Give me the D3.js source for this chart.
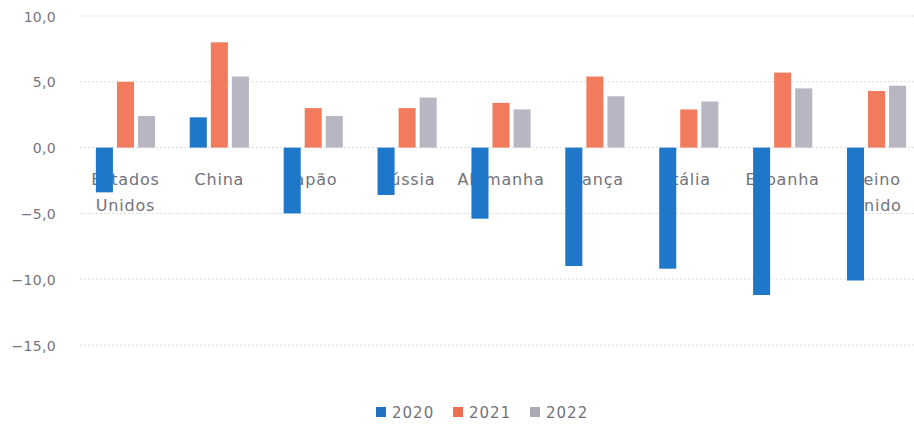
<!DOCTYPE html>
<html>
<head>
<meta charset="utf-8">
<script src="https://cdn.jsdelivr.net/npm/d3@7"></script>
<style>
  html, body { margin: 0; padding: 0; background: #fff; }
  svg { display: block; }
  text { font-family: "DejaVu Sans", sans-serif; }
</style>
</head>
<body>
<svg id="chart" width="914" height="428"></svg>
<script>
// GDP growth (%) by country, 2020–2022
const countries = ["Estados Unidos", "China", "Japão", "Rússia", "Alemanha", "França", "Itália", "Espanha", "Reino Unido"];
const series = ["2020", "2021", "2022"];
const values2020 = [-3.4, 2.3, -5.0, -3.6, -5.4, -9.0, -9.2, -11.2, -10.1];
const values2021 = [5.0, 8.0, 3.0, 3.0, 3.4, 5.4, 2.9, 5.7, 4.3];
const values2022 = [2.4, 5.4, 2.4, 3.8, 2.9, 3.9, 3.5, 4.5, 4.7];
const yTicks = [10, 5, 0, -5, -10, -15];

const seriesValues = { "2020": values2020, "2021": values2021, "2022": values2022 };
const barColors = { "2020": "#1f77c9", "2021": "#f27a5d", "2022": "#b8b6c3" };
const swatchColors = { "2020": "#2272c0", "2021": "#ef6f52", "2022": "#aba9b6" };

const svg = d3.select("#chart");

const y = d3.scaleLinear().domain([-15, 10]).range([345, 16]);
const x0 = d3.scaleBand().domain(countries).range([78.5, 923.5])
  .paddingInner(0.37).paddingOuter(0.185);
const x1 = d3.scaleBand().domain(series).range([0, x0.bandwidth()]).paddingInner(0.19);

// dotted gridlines
svg.append("g").selectAll("line").data(yTicks).join("line")
  .attr("x1", 80).attr("x2", 914)
  .attr("y1", d => y(d)).attr("y2", d => y(d))
  .attr("stroke", "#dcdde4").attr("stroke-width", 1)
  .attr("stroke-dasharray", "2,2");

// y tick labels with comma decimal separator
const fmt = d => d3.format(".1f")(d).replace(".", ",").replace("-", "\u2212");
svg.append("g").selectAll("text").data(yTicks).join("text")
  .attr("x", 56).attr("y", d => y(d)).attr("dy", "0.4em")
  .attr("text-anchor", "end")
  .attr("font-size", 14).attr("letter-spacing", 0.3)
  .attr("fill", "#75757d")
  .text(fmt);

// category labels (two lines where the name has two words)
const labels = svg.append("g").selectAll("text").data(countries).join("text")
  .attr("text-anchor", "middle")
  .attr("font-size", 16).attr("letter-spacing", 0.8)
  .attr("fill", "#72727a")
  .attr("transform", d => `translate(${x0(d) + x0.bandwidth() / 2},${y(0) + 37})`);
labels.each(function(d) {
  const words = d.split(" ");
  d3.select(this).selectAll("tspan").data(words).join("tspan")
    .attr("x", 0).attr("dy", (w, i) => i === 0 ? 0 : 26)
    .text(w => w);
});

// bars
const groups = svg.append("g").selectAll("g").data(countries).join("g")
  .attr("transform", d => `translate(${x0(d)},0)`);
groups.selectAll("rect")
  .data((c, i) => series.map(s => ({ s, v: seriesValues[s][i] })))
  .join("rect")
  .attr("x", d => x1(d.s))
  .attr("width", x1.bandwidth())
  .attr("y", d => y(Math.max(0, d.v)))
  .attr("height", d => Math.abs(y(d.v) - y(0)))
  .attr("fill", d => barColors[d.s]);

// legend
const legend = svg.append("g").selectAll("g").data(series).join("g")
  .attr("transform", (d, i) => `translate(${376 + i * 77},407)`);
legend.append("rect")
  .attr("width", 10).attr("height", 10)
  .attr("fill", d => swatchColors[d]);
legend.append("text")
  .attr("x", 16).attr("y", 11)
  .attr("font-size", 15).attr("letter-spacing", 1)
  .attr("fill", "#72727c")
  .text(d => d);
</script>
</body>
</html>
